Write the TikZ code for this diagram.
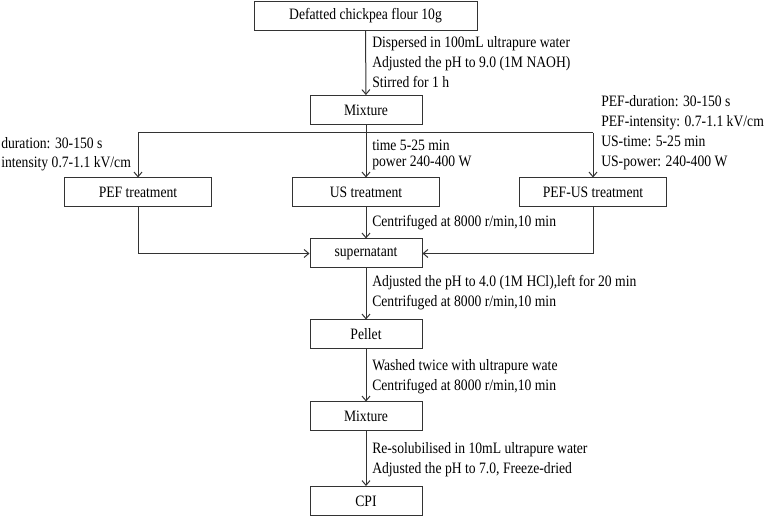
\documentclass[tikz,border=0pt]{standalone}
\usepackage{fontspec}
\setmainfont[FakeStretch=0.86]{Liberation Serif}
\usetikzlibrary{positioning, arrows.meta}

\begin{document}
\begin{tikzpicture}[x=0.75pt, y=-0.75pt,
        font=\fontsize{11.9}{15}\selectfont,
        box/.style={draw=black!80, line width=0.75pt, inner sep=0pt, minimum height=21.75pt, minimum width=84pt},
        wide/.style={box, minimum width=110.25pt},
        note/.style={inner sep=0pt, anchor=west, align=left},
        flow/.style={draw=black!80, line width=0.75pt, -{Straight Barb[length=3.5pt, width=6pt]}}]
        \useasboundingbox (0,0) rectangle (765,516);
        \node[box, minimum width=167.25pt] (flour) at (365.5,16) {Defatted chickpea flour 10g};
        \node[box] (mix) at (366,110) {Mixture};
        \node[wide] (pef) at (138,192.5) {PEF treatment};
        \node[wide] (us) at (366,192.5) {US treatment};
        \node[wide] (pefus) at (593,192.5) {PEF-US treatment};
        \node[box] (sup) at (366,253.5) {supernatant};
        \node[box] (pellet) at (366,334.5) {Pellet};
        \node[box] (mix2) at (366,416.5) {Mixture};
        \node[box] (cpi) at (366,501) {CPI};
        \coordinate (split) at (366,133);
        \coordinate (splitl) at (pef |- split);
        \coordinate (splitr) at (pefus |- split);
        \node[note] (disperse) at (372,62) {Dispersed in 100mL ultrapure water\\Adjusted the pH to 9.0 (1M NAOH)\\Stirred for 1 h};
        \node[note] (pefcond) at (1,154.5) {duration: 30-150 s\\[-0.75pt]intensity 0.7-1.1 kV/cm};
        \node[note] (uscond) at (372,155) {time 5-25 min\\[-3pt]power 240-400 W};
        \node[note] (pefuscond) at (601,133) {PEF-duration: 30-150 s\\PEF-intensity: 0.7-1.1 kV/cm\\US-time: 5-25 min\\US-power: 240-400 W};
        \node[note] (centri) at (372,223) {Centrifuged at 8000 r/min,10 min};
        \node[note] (acid) at (372,293) {Adjusted the pH to 4.0 (1M HCl),left for 20 min\\Centrifuged at 8000 r/min,10 min};
        \node[note] (wash) at (372,376.5) {Washed twice with ultrapure wate\\Centrifuged at 8000 r/min,10 min};
        \node[note] (resol) at (372,460) {Re-solubilised in 10mL ultrapure water\\Adjusted the pH to 7.0, Freeze-dried};
        \draw[flow] (flour) -- (mix);
        \draw[flow, -] (mix) -- (split)
        (splitl) -- (splitr);
        \draw[flow] (splitl) -- (pef);
        \draw[flow] (split) -- (us);
        \draw[flow] (splitr) -- (pefus);
        \draw[flow] (pef) |- (sup);
        \draw[flow] (us) -- (sup);
        \draw[flow] (pefus) |- (sup);
        \draw[flow] (sup) -- (pellet);
        \draw[flow] (pellet) -- (mix2);
        \draw[flow] (mix2) -- (cpi);
    \end{tikzpicture}
\end{document}
